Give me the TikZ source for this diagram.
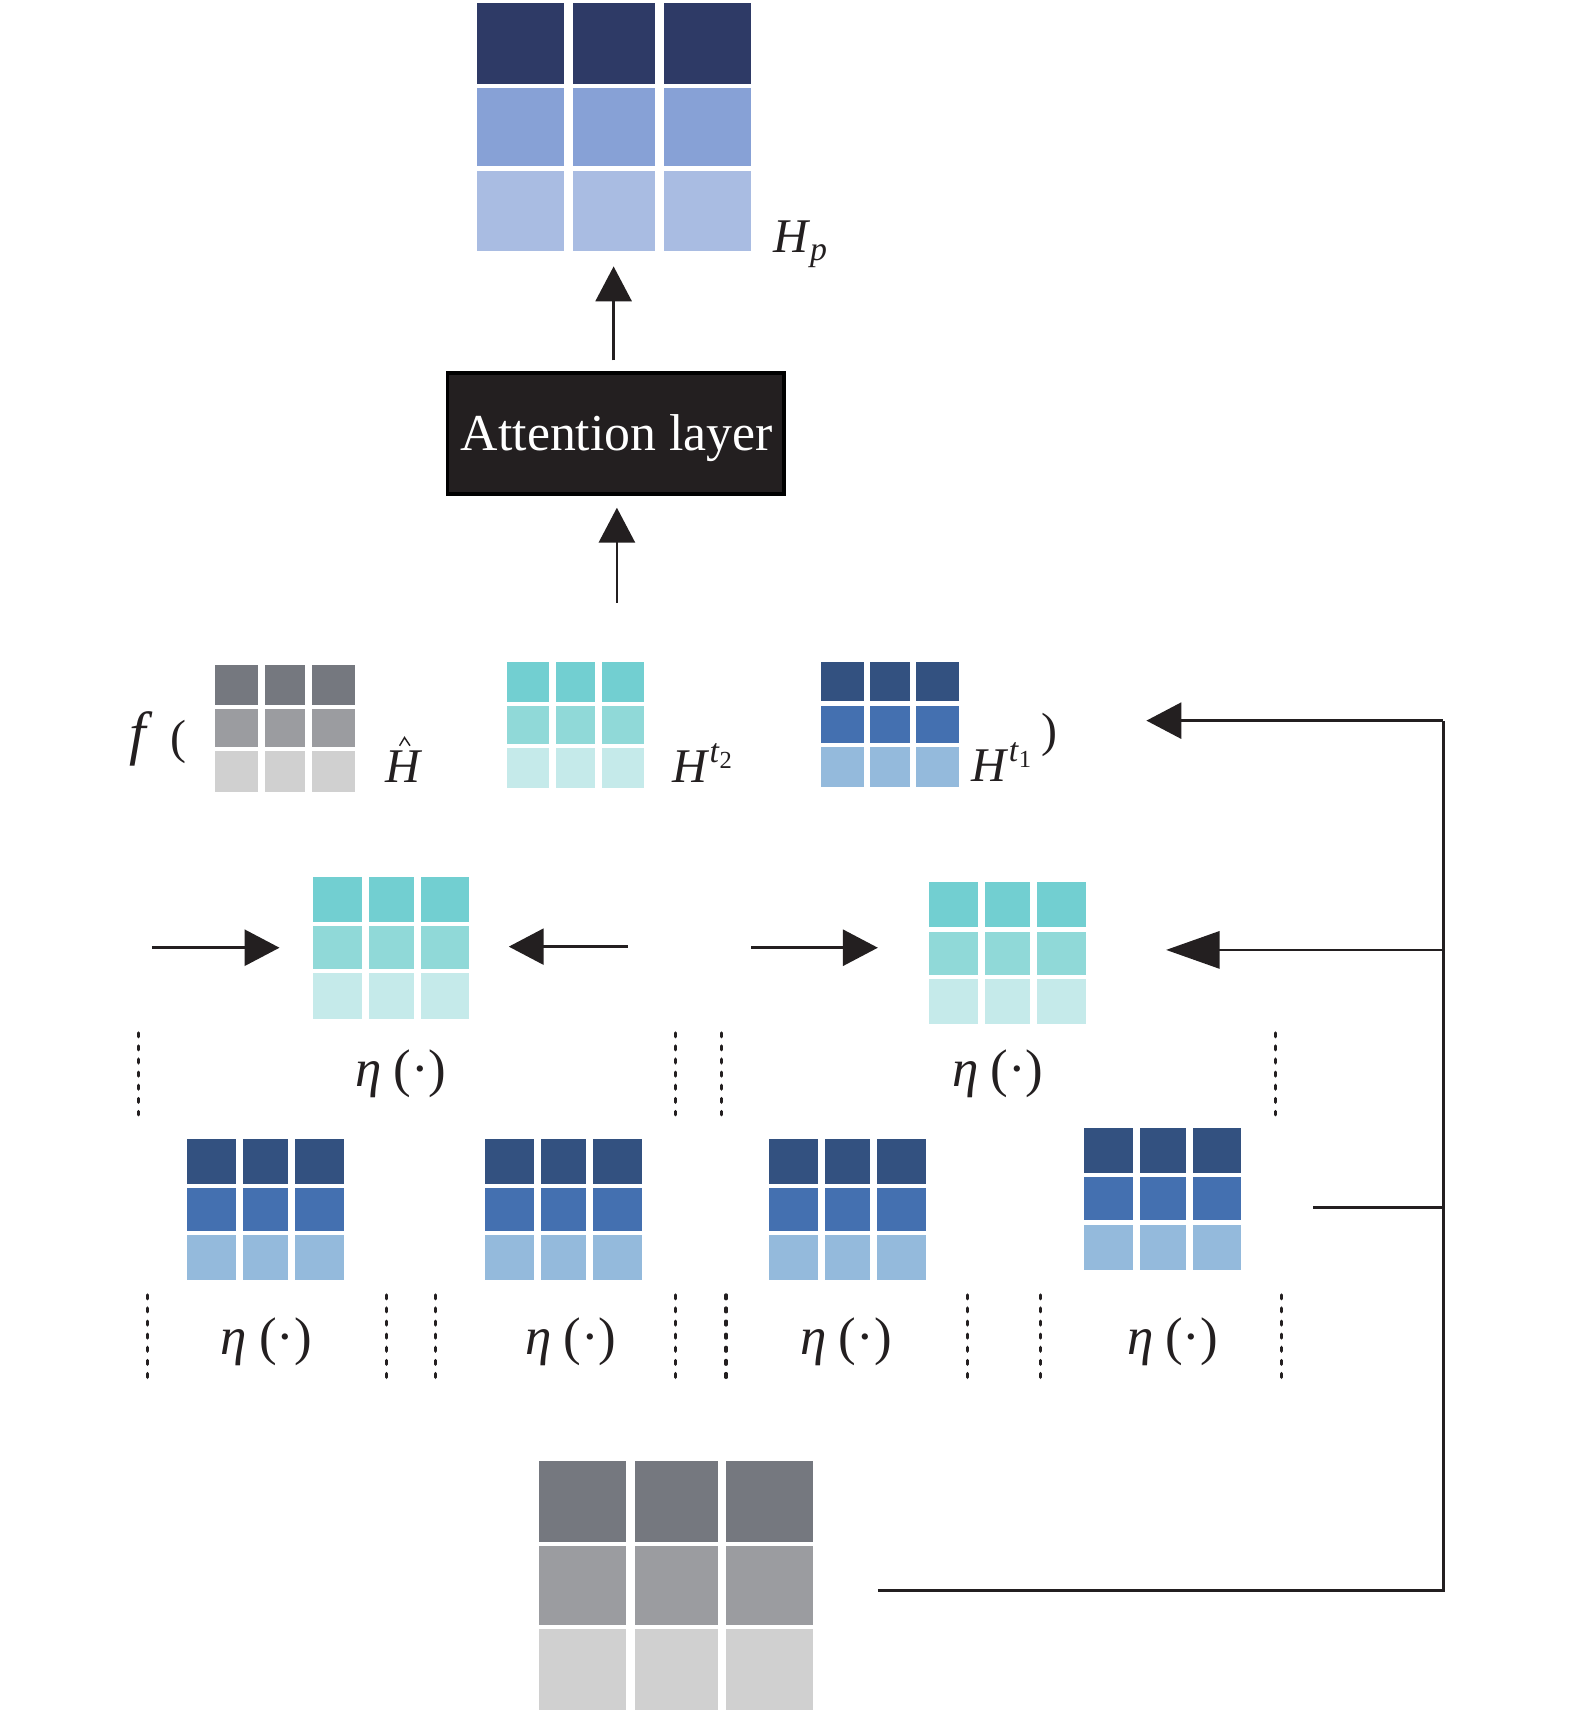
\documentclass[tikz,border=0pt]{standalone}
\usepackage{fontspec}
\setmainfont{Liberation Serif}
\usetikzlibrary{arrows.meta}
\definecolor{hpA}{HTML}{2E3A66}
\definecolor{hpB}{HTML}{87A1D6}
\definecolor{hpC}{HTML}{A9BCE2}
\definecolor{gyA}{HTML}{75787F}
\definecolor{gyB}{HTML}{9B9CA0}
\definecolor{gyC}{HTML}{D0D0D0}
\definecolor{tlA}{HTML}{72CFD1}
\definecolor{tlB}{HTML}{90D9D8}
\definecolor{tlC}{HTML}{C5EAEA}
\definecolor{blA}{HTML}{335180}
\definecolor{blB}{HTML}{4470B0}
\definecolor{blC}{HTML}{94BADC}
\definecolor{boxc}{HTML}{231F20}
\definecolor{inkc}{HTML}{231F20}
\newcommand\ff[1]{\fontsize{#1}{#1}\selectfont}
% name, x, y, w, h, hgap, colour family
\newcommand\mtx[7]{%
  \node[inner sep=0pt,outer sep=0pt,minimum width={#4*0.1mm},minimum height={#5*0.1mm},anchor=north west] (#1) at (#2,#3) {};
  \fill[#7A] (#2,#3) rectangle ({#2+#4},{#3+#5/3});
  \fill[#7B] (#2,{#3+#5/3}) rectangle ({#2+#4},{#3+2*#5/3});
  \fill[#7C] (#2,{#3+2*#5/3}) rectangle ({#2+#4},{#3+#5});
  \draw[white,line width={#6*0.1mm}] ({#2+#4/3},{#3-1}) -- ({#2+#4/3},{#3+#5+1}) ({#2+2*#4/3},{#3-1}) -- ({#2+2*#4/3},{#3+#5+1});
  \draw[white,line width=0.38mm] ({#2-1},{#3+#5/3}) -- ({#2+#4+1},{#3+#5/3}) ({#2-1},{#3+2*#5/3}) -- ({#2+#4+1},{#3+2*#5/3});
}
\tikzset{
  conn/.style={draw=inkc,line width=0.25mm},
  arr/.style={conn,-{Triangle[length=3.2mm,width=3.3mm]}},
  arrlong/.style={conn,-{Triangle[length=4.9mm,width=3.4mm]}},
  dots/.style={draw=inkc,line width=0.3mm,line cap=round,dash pattern=on 0.35mm off 0.85mm},
  lab/.style={inner sep=0pt,outer sep=0pt,text=inkc},
}
\begin{document}
\begin{tikzpicture}[x=0.1mm,y=-0.1mm]
\useasboundingbox[fill=white] (0,0) rectangle (1443,1568);
% output matrix
\mtx{hp}{437}{3}{251}{227}{8.5}{hp}
\node[lab,anchor=base west] (lhp) at (708,231) {\ff{12.6}\textit{H}\raisebox{-0.8mm}{\ff{8.8}\textit{p}}};
% attention layer
\node[fill=boxc,draw=black,line width=0.3mm,minimum width=30.8mm,minimum height=11.1mm,inner sep=0pt] (att) at (564,397) {};
\node[lab,text=white,anchor=base] (atttxt) at (565,413) {\ff{13.5}Attention layer};
\coordinate (a1s) at (562,330);
\coordinate (a1e) at (562,244);
\draw[arr] (a1s) -- (a1e);
\coordinate (a2s) at (565,552);
\coordinate (a2e) at (565,465);
\draw[arr] (a2s) -- (a2e);
% row 2: f( H^, H^t2, H^t1 )
\node[lab,anchor=base west] (lf) at (119,690) {\ff{15.5}\textit{f}\hspace{1.6mm}\ff{12.5}(};
\mtx{gH}{197}{609}{128}{116}{6}{gy}
\node[lab,anchor=base west] (lhhat) at (353,717) {\ff{12.6}\textit{H}};
\draw[inkc,line width=0.13mm] (366,683) -- (370.5,675.5) -- (375.5,683);
\mtx{tH}{464}{606}{126}{116}{6}{tl}
\node[lab,anchor=base west] (lht2) at (616,717) {\ff{12.6}\textit{H}\raisebox{1.9mm}{\ff{8.8}\textit{t}\raisebox{-0.55mm}{\ff{6.4}2}}};
\mtx{bH}{752}{606}{126}{115}{6}{bl}
\node[lab,anchor=base west] (lht1) at (890,716) {\ff{12.6}\textit{H}\raisebox{1.9mm}{\ff{8.8}\textit{t}\raisebox{-0.55mm}{\ff{6.4}1}}};
\node[lab,anchor=base west] (lpar) at (954,684) {\ff{12.5})};
% row 3
\mtx{tA}{287}{803}{143}{130}{6.4}{tl}
\mtx{tB}{851}{808}{144}{130}{6.4}{tl}
\coordinate (r3a) at (139,868);
\coordinate (r3b) at (256,868);
\draw[arr] (r3a) -- (r3b);
\coordinate (r3c) at (575,867);
\coordinate (r3d) at (466,867);
\draw[arr] (r3c) -- (r3d);
\coordinate (r3e) at (688,868);
\coordinate (r3f) at (804,868);
\draw[arr] (r3e) -- (r3f);
\node[lab,anchor=base] (e1) at (367,995) {\ff{13.8}\textit{η}\hspace{1.1mm}(·)};
\node[lab,anchor=base] (e2) at (914,995) {\ff{13.8}\textit{η}\hspace{1.1mm}(·)};
\foreach \xx in {127,619,661,1168} \draw[dots] (\xx,946) -- (\xx,1021);
% row 4
\mtx{bA}{171}{1043}{144}{129}{6.4}{bl}
\mtx{bB}{444}{1043}{144}{129}{6.4}{bl}
\mtx{bC}{704}{1043}{144}{129}{6.4}{bl}
\mtx{bD}{993}{1033}{144}{130}{6.4}{bl}
\node[lab,anchor=base] (e3) at (244,1241) {\ff{13.8}\textit{η}\hspace{1.1mm}(·)};
\node[lab,anchor=base] (e4) at (523,1241) {\ff{13.8}\textit{η}\hspace{1.1mm}(·)};
\node[lab,anchor=base] (e5) at (775,1241) {\ff{13.8}\textit{η}\hspace{1.1mm}(·)};
\node[lab,anchor=base] (e6) at (1074,1241) {\ff{13.8}\textit{η}\hspace{1.1mm}(·)};
\foreach \xx in {135,354,399,619,665,886,953,1174} \draw[dots] (\xx,1186) -- (\xx,1262);
% bottom input matrix
\mtx{gB}{494}{1338}{251}{228}{8}{gy}
% feedback connectors
\coordinate (sbot) at (804,1457);
\coordinate (jbot) at (1322,1457);
\coordinate (jb4) at (1322,1106);
\coordinate (s4) at (1203,1106);
\coordinate (jmid) at (1322,870);
\coordinate (emid) at (1068,870);
\coordinate (jtop) at (1322,660);
\coordinate (etop) at (1050,660);
\draw[conn] (sbot) -- (jbot) -- (jtop);
\draw[conn] (s4) -- (jb4);
\draw[arr] (jtop) -- (etop);
\draw[arrlong] (jmid) -- (emid);
\end{tikzpicture}
\end{document}
